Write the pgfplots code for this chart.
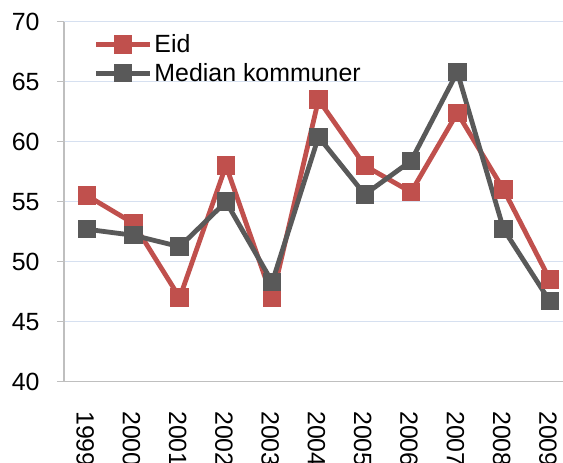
\documentclass[border=0pt]{standalone}
\usepackage{fontspec}
\setmainfont{Liberation Sans}
\usepackage{pgfplots}
\pgfplotsset{compat=1.18}
\definecolor{eid}{HTML}{C0504D}
\definecolor{med}{HTML}{595959}
\definecolor{gridc}{HTML}{D6E0F0}
\definecolor{axc}{HTML}{BFBFBF}
\begin{document}
\begin{tikzpicture}[x=1bp,y=1bp]
\clip (0,0) rectangle (563,463);
\begin{axis}[
  at={(64bp,81.3bp)}, anchor=south west,
  scale only axis, width=509bp, height=360bp,
  xmin=-0.5, xmax=10.5, ymin=40, ymax=70,
  ytick={40,45,...,70},
  xtick={0,...,10},
  xticklabels={1999,2000,2001,2002,2003,2004,2005,2006,2007,2008,2009},
  minor xtick={-0.5,0.5,...,10.5},
  axis lines*=left,
  axis line style={axc, line width=1.5bp},
  every tick/.style={axc, line width=1.5bp},
  xtick style={draw=none},
  tick align=outside,
  major tick length=7bp,
  minor tick length=7bp,
  ymajorgrids,
  grid style={gridc, line width=1.4bp},
  /pgf/number format/assume math mode=true,
  tick label style={font=\fontsize{25}{29}\selectfont, black},
  yticklabel style={xshift=-14bp},
  xticklabel style={rotate=-90, anchor=west, xshift=19bp, yshift=-2bp},
  legend style={draw=none, fill=none, at={(rel axis cs:0.052,0.975)}, anchor=north west,
    font=\fontsize{25}{29}\selectfont, row sep=5bp,
    nodes={inner sep=2bp}},
  legend cell align=left,
  legend image code/.code={\draw[mark repeat=2,mark phase=2,#1] plot coordinates {(0bp,0bp) (27bp,0bp) (54bp,0bp)};},
]
\addplot[eid, line width=4.8bp, mark=square*, mark size=6.8bp, mark options={solid}] coordinates {
 (0,55.5) (1,53.2) (2,47.0) (3,58.0) (4,47.0) (5,63.5) (6,58.0) (7,55.8) (8,62.4) (9,56.0) (10,48.5)};
\addlegendentry{Eid}
\addplot[med, line width=4.8bp, mark=square*, mark size=6.8bp, mark options={solid}] coordinates {
 (0,52.7) (1,52.2) (2,51.25) (3,55.0) (4,48.3) (5,60.4) (6,55.6) (7,58.4) (8,65.8) (9,52.7) (10,46.7)};
\addlegendentry{Median kommuner}
\end{axis}
\end{tikzpicture}
\end{document}
